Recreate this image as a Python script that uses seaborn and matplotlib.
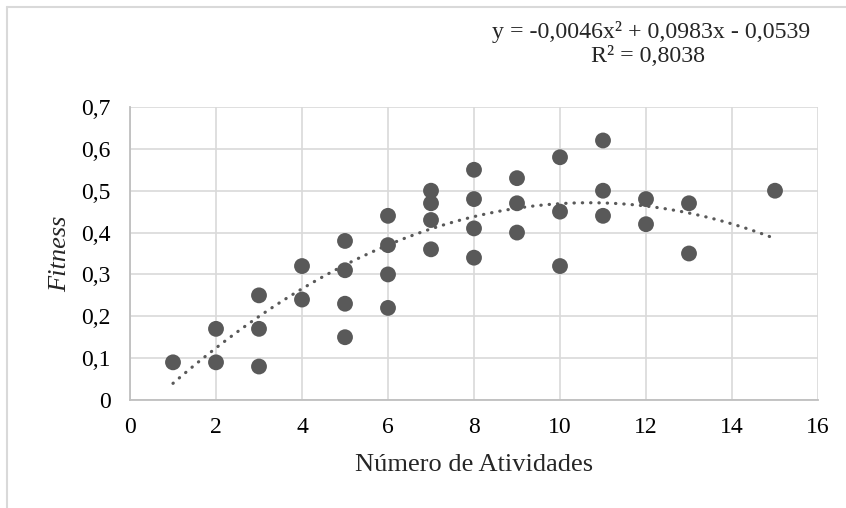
import numpy as np
import pandas as pd
import matplotlib
matplotlib.use('Agg')
import matplotlib.pyplot as plt
from matplotlib.lines import Line2D
import seaborn as sns

# Dados (número de atividades x fitness)
atividades = [1, 2, 2, 3, 3, 3, 4, 4, 5, 5, 5, 5, 6, 6, 6, 6,
              7, 7, 7, 7, 8, 8, 8, 8, 9, 9, 9, 10, 10, 10,
              11, 11, 11, 12, 12, 13, 13, 15]
fitness = [0.09, 0.17, 0.09, 0.25, 0.17, 0.08, 0.32, 0.24,
           0.38, 0.31, 0.23, 0.15, 0.44, 0.37, 0.30, 0.22,
           0.50, 0.47, 0.43, 0.36, 0.55, 0.48, 0.41, 0.34,
           0.53, 0.47, 0.40, 0.58, 0.45, 0.32,
           0.62, 0.50, 0.44, 0.48, 0.42, 0.47, 0.35, 0.50]
# coeficientes da linha de tendência mostrados no gráfico
coef = [-0.0046, 0.0983, -0.0539]
equacao = 'y = -0,0046x² + 0,0983x - 0,0539'
r2 = 'R² = 0,8038'
x_ticks = list(range(0, 17, 2))
y_ticks = [0, 0.1, 0.2, 0.3, 0.4, 0.5, 0.6, 0.7]
y_labels = ['0', '0,1', '0,2', '0,3', '0,4', '0,5', '0,6', '0,7']

df = pd.DataFrame({'atividades': atividades, 'fitness': fitness})
xs = np.linspace(min(atividades), max(atividades), 100)
tendencia = pd.DataFrame({'x': xs, 'y': np.polyval(coef, xs)})

sns.set_style('white')
plt.rcParams['font.family'] = ['Liberation Serif', 'DejaVu Serif']

cor = '#595959'
grade = '#d9d9d9'

fig = plt.figure(figsize=(8.46, 5.08), dpi=100)
ax = fig.add_axes([130 / 846, 1 - 400 / 508, 688 / 846, 293 / 508])

# Linha de tendência polinomial (ordem 2), pontilhada
sns.lineplot(x='x', y='y', data=tendencia, ax=ax, color=cor, linewidth=2.3,
             linestyle=(0, (0.1, 2.5)), dash_capstyle='round')
sns.scatterplot(x='atividades', y='fitness', data=df, ax=ax,
                s=130, color=cor, edgecolor='none', zorder=3)

ax.set_xlim(0, 16)
ax.set_ylim(0, 0.7)
ax.set_xticks(x_ticks)
ax.set_xticklabels([str(t) for t in x_ticks])
ax.set_yticks(y_ticks)
ax.set_yticklabels(y_labels)
ax.grid(True, color=grade, linewidth=1.2)
ax.set_axisbelow(True)
for lado in ['top', 'right']:
    ax.spines[lado].set_visible(False)
for lado in ['left', 'bottom']:
    ax.spines[lado].set_color('#bfbfbf')
    ax.spines[lado].set_linewidth(1.3)
ax.tick_params(axis='both', length=0, labelsize=17, labelcolor='black')
ax.tick_params(axis='y', pad=14)
ax.tick_params(axis='x', pad=12)

ax.set_xlabel('Número de Atividades', fontsize=19, labelpad=12)
ax.set_ylabel('Fitness', fontsize=19, fontstyle='italic', labelpad=7)

fig.text(651 / 846, 1 - 32 / 508, equacao, ha='center', va='center', fontsize=17.2)
fig.text(648 / 846, 1 - 57 / 508, r2, ha='center', va='center', fontsize=17.2)

# moldura do gráfico (somente bordas superior e esquerda visíveis)
fig.add_artist(Line2D([7 / 846, 1.0], [1 - 7 / 508, 1 - 7 / 508],
                      color=grade, linewidth=1.5, transform=fig.transFigure))
fig.add_artist(Line2D([7 / 846, 7 / 846], [0.0, 1 - 7 / 508],
                      color=grade, linewidth=1.5, transform=fig.transFigure))

plt.savefig('out.png', dpi=100)
